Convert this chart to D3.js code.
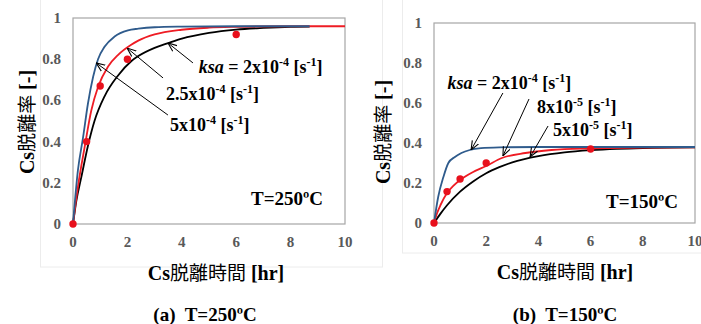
<!DOCTYPE html>
<html>
<head>
<meta charset="utf-8">
<script src="https://cdn.jsdelivr.net/npm/d3@7"></script>
<style>
  body { margin: 0; background: #fff; }
  text { font-family: "Liberation Serif", "Times New Roman", "DejaVu Serif", serif; font-weight: bold; }
  .jp { font-family: "Noto Sans CJK JP", sans-serif; font-weight: normal; }
</style>
</head>
<body>
<svg id="chart" width="701" height="324"></svg>
<script>
// ticks
var xTicks = [0, 2, 4, 6, 8, 10];
var yTicks = [0, 0.2, 0.4, 0.6, 0.8, 1];

// (a) 250C : [hr, fraction]
var a_ksa5e4 = [[0,0],[0.18,0.26],[0.37,0.42],[0.55,0.585],[0.74,0.715],[0.92,0.8],[1.16,0.86],[1.53,0.91],[2.02,0.94],[2.4,0.948],[3,0.955],[4,0.958],[6,0.96],[8.7,0.96]];
var a_ksa25e4 = [[0,0],[0.18,0.18],[0.43,0.375],[0.67,0.55],[0.92,0.665],[1.29,0.765],[1.65,0.82],[2.14,0.87],[2.4,0.89],[3,0.92],[4,0.943],[5,0.953],[6,0.957],[8,0.96],[10,0.96]];
var a_ksa2e4 = [[0,0],[0.12,0.11],[0.31,0.23],[0.55,0.38],[0.79,0.5],[1.16,0.62],[1.65,0.72],[2.14,0.79],[2.4,0.815],[3,0.855],[3.5,0.878],[4,0.9],[5,0.928],[6,0.944],[7,0.952],[8,0.957],[8.7,0.958]];
var a_meas = [[0,0],[0.5,0.40],[1,0.67],[2,0.80],[6,0.92]];

// (b) 150C
var b_ksa2e4 = [[0,0],[0.16,0.13],[0.36,0.23],[0.55,0.30],[0.8,0.33],[1.05,0.35],[1.37,0.365],[1.8,0.374],[2.5,0.378],[4,0.38],[10,0.38]];
var b_ksa8e5 = [[0,0],[0.12,0.05],[0.25,0.09],[0.5,0.15],[0.75,0.187],[1,0.215],[1.5,0.255],[2,0.285],[2.6,0.325],[3.5,0.35],[4.5,0.365],[6,0.373],[8,0.377],[10,0.378]];
var b_ksa5e5 = [[0,0],[0.25,0.047],[0.5,0.089],[1,0.157],[1.5,0.208],[2,0.249],[2.5,0.279],[3,0.303],[4,0.334],[5,0.353],[6,0.364],[7,0.371],[8,0.375],[10,0.378]];
var b_meas = [[0,0],[0.5,0.157],[1,0.22],[2,0.30],[6,0.37]];

// annotations: [base, exponent, textT, textV, fromT, fromV, tipT, tipV, italic prefix]
var a_notes = [
  ["2x10", "-4", 4.62, 0.733, 4.41, 0.782, 3.49, 0.879, true],
  ["2.5x10", "-4", 3.42, 0.602, 3.31, 0.709, 1.99, 0.854, false],
  ["5x10", "-4", 3.57, 0.451, 3.49, 0.529, 0.85, 0.782, false]
];
var b_notes = [
  ["2x10", "-4", 0.52, 0.67, 2.64, 0.65, 1.42, 0.365, true],
  ["8x10", "-5", 3.95, 0.55, 3.64, 0.62, 2.64, 0.335, false],
  ["5x10", "-5", 4.56, 0.435, 4.37, 0.485, 3.68, 0.33, false]
];

var svg = d3.select("#chart");

svg.append("defs").append("marker")
  .attr("id", "arr").attr("viewBox", "0 0 10 10")
  .attr("refX", 10).attr("refY", 5)
  .attr("markerWidth", 9).attr("markerHeight", 9)
  .attr("markerUnits", "userSpaceOnUse")
  .attr("orient", "auto")
  .append("path").attr("d", "M0,1 L10,5 L0,9")
  .attr("fill", "none").attr("stroke", "#000").attr("stroke-width", 1.2);

// faint outer frames
svg.append("rect").attr("x", 40.5).attr("y", -1).attr("width", 342).attr("height", 268)
  .attr("fill", "none").attr("stroke", "#ececec");
svg.append("rect").attr("x", 402.5).attr("y", -1).attr("width", 310).attr("height", 254)
  .attr("fill", "none").attr("stroke", "#ececec");

function drawPanel(opt) {
  var x = d3.scaleLinear().domain([0, 10]).range(opt.xr);
  var y = d3.scaleLinear().domain([0, 1]).range(opt.yr);
  var g = svg.append("g");

  g.append("rect")
    .attr("x", x(0)).attr("y", y(1))
    .attr("width", x(10) - x(0)).attr("height", y(0) - y(1))
    .attr("fill", "#fff").attr("stroke", "#a6a6a6").attr("stroke-width", 1.2);

  g.selectAll(".xt").data(xTicks).enter().append("text")
    .attr("x", function(d) { return x(d); })
    .attr("y", y(0) + 23)
    .attr("text-anchor", "middle")
    .attr("font-size", 15).attr("fill", "#595959")
    .text(function(d) { return d; });

  g.selectAll(".yt").data(yTicks).enter().append("text")
    .attr("x", x(0) - 12)
    .attr("y", function(d) { return y(d) + 5; })
    .attr("text-anchor", "end")
    .attr("font-size", 15).attr("fill", "#595959")
    .text(function(d) { return d; });

  var line = d3.line()
    .x(function(d) { return x(d[0]); })
    .y(function(d) { return y(d[1]); })
    .curve(d3.curveMonotoneX);

  opt.series.forEach(function(s) {
    g.append("path").attr("d", line(s.data))
      .attr("fill", "none").attr("stroke", s.color).attr("stroke-width", 1.8);
  });

  g.selectAll(".dot").data(opt.meas).enter().append("circle")
    .attr("cx", function(d) { return x(d[0]); })
    .attr("cy", function(d) { return y(d[1]); })
    .attr("r", 3.7)
    .attr("fill", "#e8101c");

  opt.notes.forEach(function(n) {
    g.append("line")
      .attr("x1", x(n[4])).attr("y1", y(n[5]))
      .attr("x2", x(n[6])).attr("y2", y(n[7]))
      .attr("stroke", "#000").attr("stroke-width", 1)
      .attr("marker-end", "url(#arr)");
    var t = g.append("text")
      .attr("x", x(n[2])).attr("y", y(n[3]))
      .attr("font-size", 18);
    if (n[8]) {
      t.append("tspan").attr("font-style", "italic").text("ksa");
      t.append("tspan").text(" = ");
    }
    t.append("tspan").text(n[0]);
    t.append("tspan").attr("font-size", 12).attr("dy", -7).text(n[1]);
    t.append("tspan").attr("dy", 7).text(" [s");
    t.append("tspan").attr("font-size", 12).attr("dy", -7).text("-1");
    t.append("tspan").attr("dy", 7).text("]");
  });

  g.append("text")
    .attr("x", x(opt.tempAt[0])).attr("y", y(opt.tempAt[1]))
    .attr("text-anchor", "end").attr("font-size", 19)
    .text(opt.temp);

  // axis titles
  var yt = g.append("text")
    .attr("transform", "translate(" + opt.yTitle[0] + "," + opt.yTitle[1] + ") rotate(-90)")
    .attr("text-anchor", "middle").attr("font-size", 20);
  yt.append("tspan").text("Cs");
  yt.append("tspan").attr("class", "jp").attr("font-size", 19).text("脱離率");
  yt.append("tspan").text(" [-]");

  var xt = g.append("text")
    .attr("x", opt.xTitle[0]).attr("y", opt.xTitle[1])
    .attr("text-anchor", "middle").attr("font-size", 20);
  xt.append("tspan").text("Cs");
  xt.append("tspan").attr("class", "jp").attr("font-size", 19).text("脱離時間");
  xt.append("tspan").text(" [hr]");

  g.append("text")
    .attr("x", opt.caption[0]).attr("y", opt.caption[1])
    .attr("text-anchor", "middle").attr("font-size", 19)
    .attr("xml:space", "preserve")
    .text(opt.capText);
}

drawPanel({
  xr: [73, 345], yr: [224, 18],
  series: [
    { data: a_ksa2e4, color: "#000" },
    { data: a_ksa25e4, color: "#ee1c24" },
    { data: a_ksa5e4, color: "#2f5b8c" }
  ],
  meas: a_meas, notes: a_notes,
  temp: "T=250ºC", tempAt: [9.19, 0.092],
  yTitle: [34, 122], xTitle: [216, 280], caption: [205, 321],
  capText: "(a)  T=250ºC"
});

drawPanel({
  xr: [434, 695], yr: [223, 23],
  series: [
    { data: b_ksa5e5, color: "#000" },
    { data: b_ksa8e5, color: "#ee1c24" },
    { data: b_ksa2e4, color: "#2f5b8c" }
  ],
  meas: b_meas, notes: b_notes,
  temp: "T=150ºC", tempAt: [9.35, 0.075],
  yTitle: [390, 132], xTitle: [565, 279], caption: [565, 321],
  capText: "(b)  T=150ºC"
});
</script>
</body>
</html>
